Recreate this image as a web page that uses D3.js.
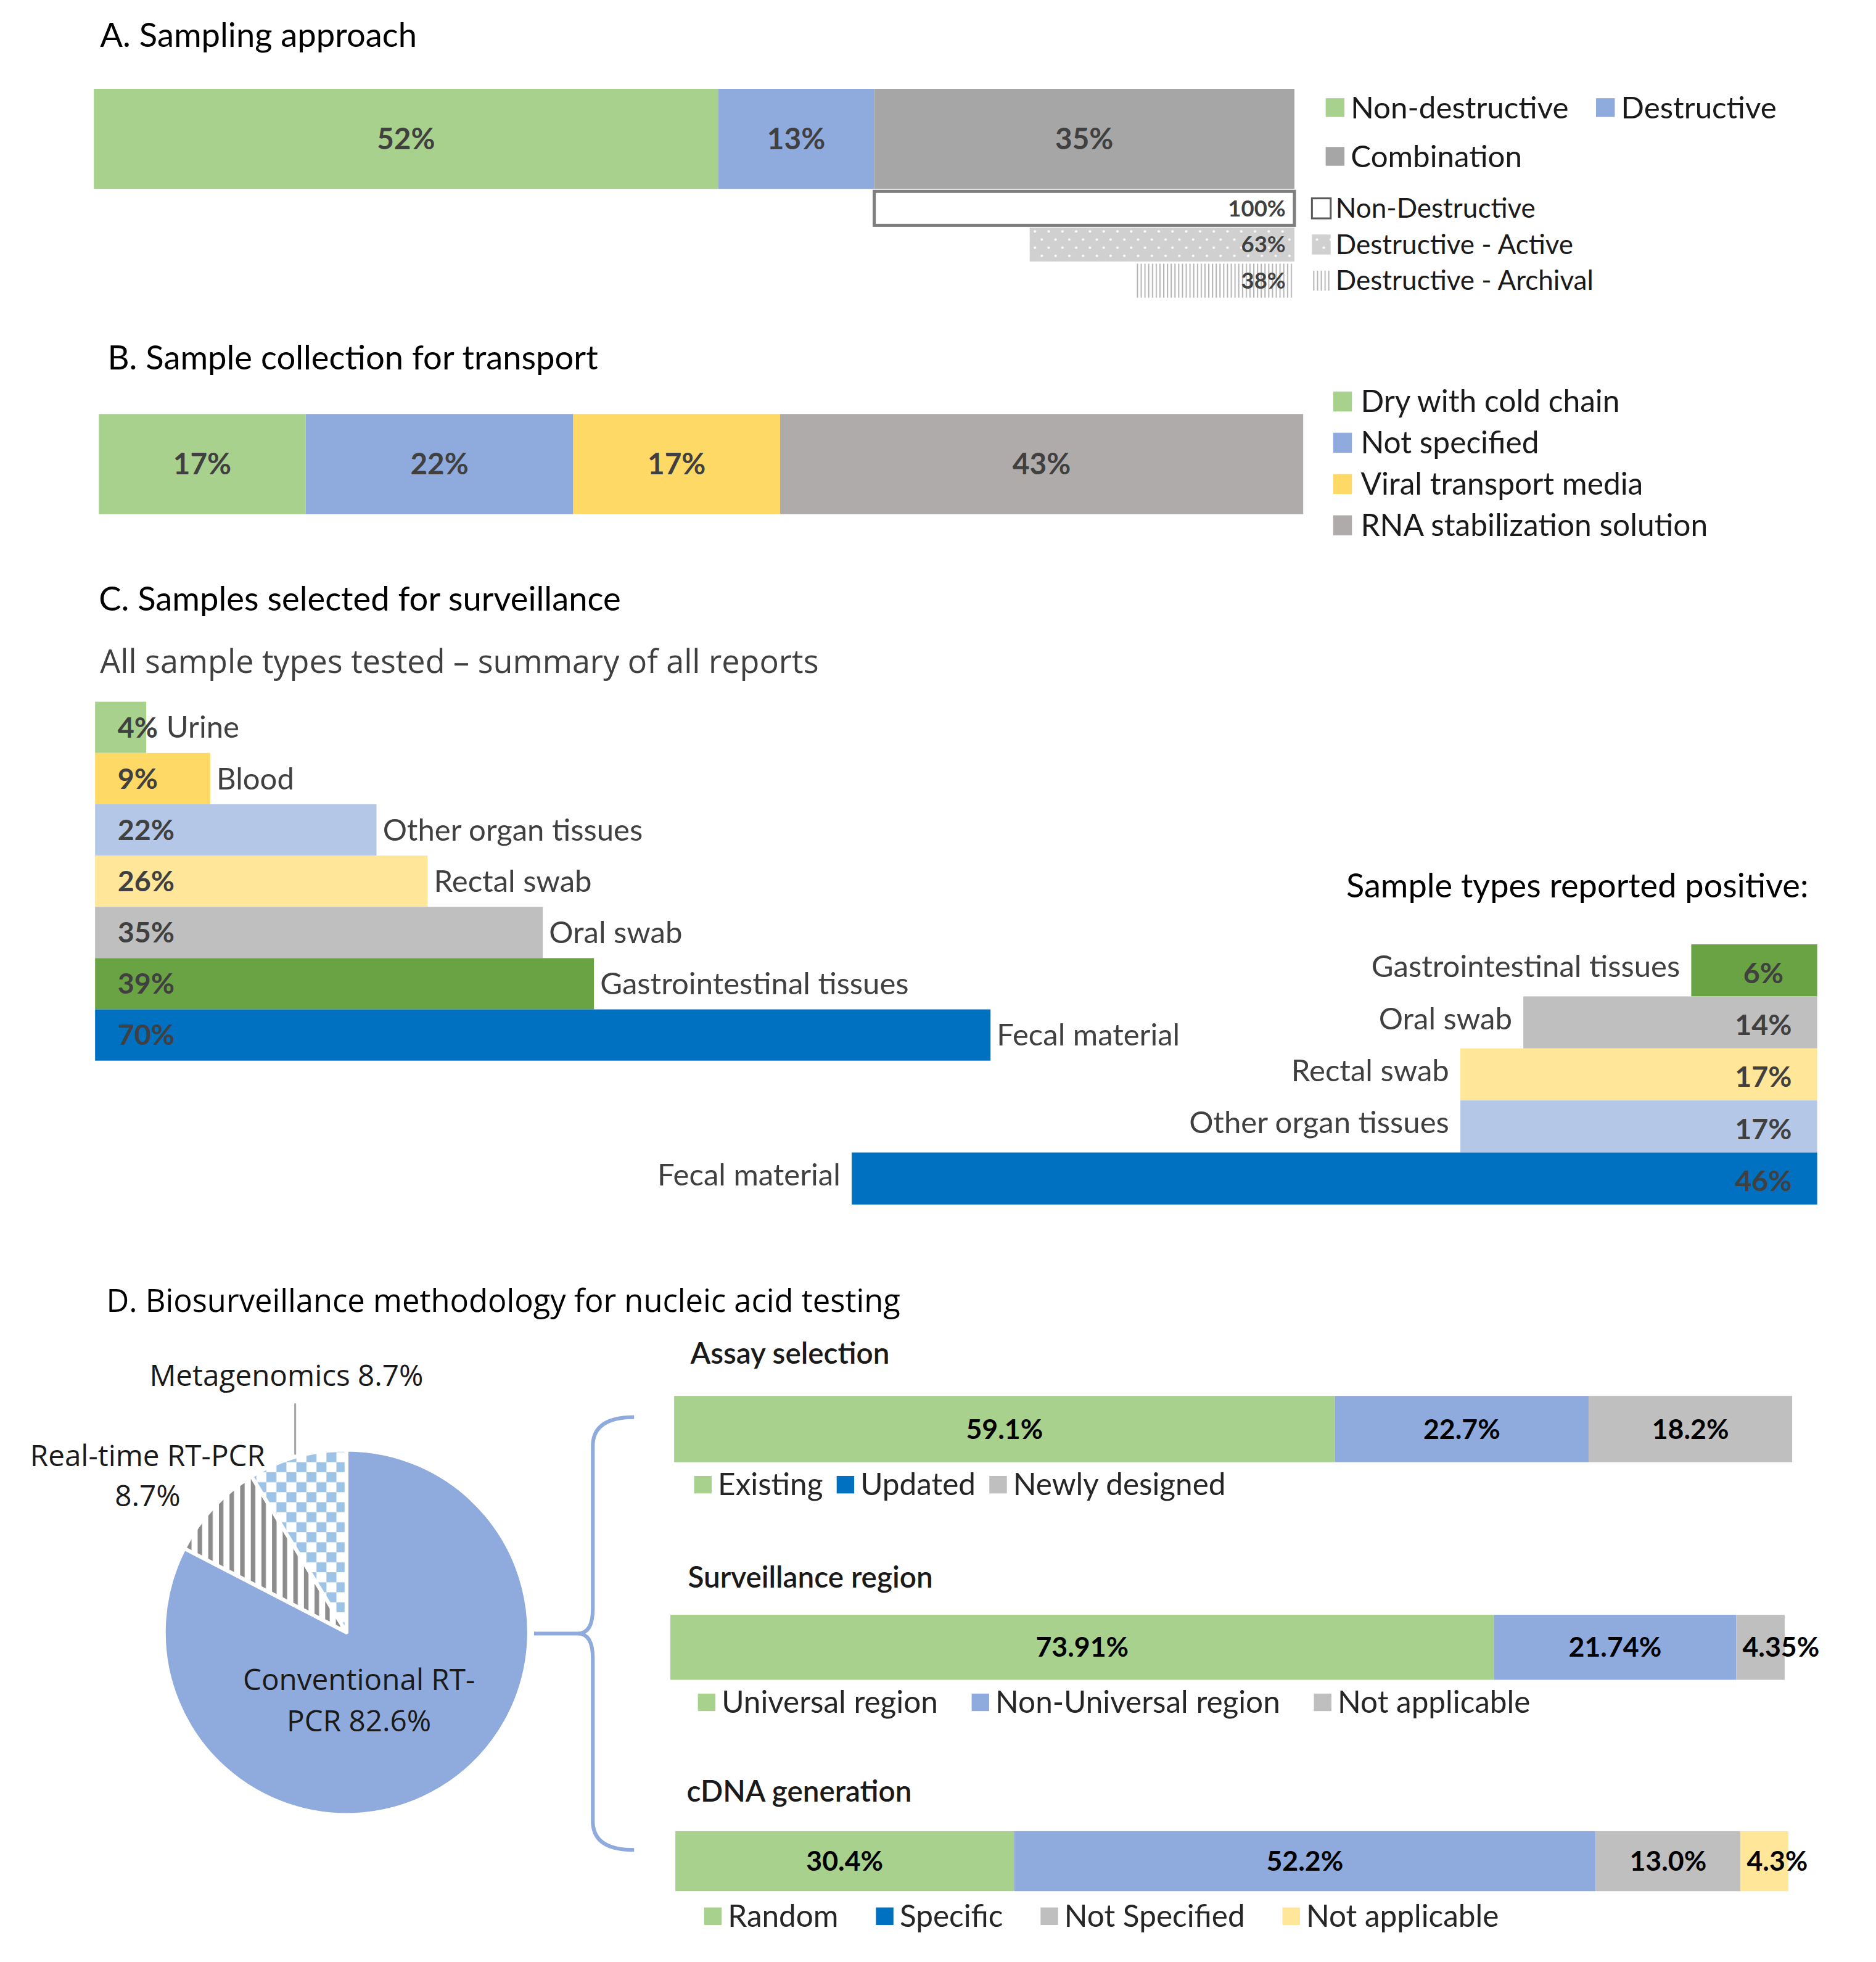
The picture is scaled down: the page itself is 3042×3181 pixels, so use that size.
<!DOCTYPE html>
<html>
<head>
<meta charset="utf-8">
<script src="https://cdn.jsdelivr.net/npm/d3@7"></script>
<style>
  body { margin: 0; background: #fff; }
  svg text { font-family: Lato, "Open Sans", sans-serif; }
  svg text.segoe { font-family: "Open Sans", "Noto Sans", sans-serif; }
</style>
</head>
<body>
<div id="chart"></div>
<script>
////////////////// Data ////////////////////
var approachCats = ["Non-destructive", "Destructive", "Combination"];
var approachVals = [52, 13, 35];
var comboCats = ["Non-Destructive", "Destructive - Active", "Destructive - Archival"];
var comboVals = [100, 63, 38];

var transportCats = ["Dry with cold chain", "Not specified", "Viral transport media", "RNA stabilization solution"];
var transportVals = [17, 22, 17, 43];

var testedCats = ["Urine", "Blood", "Other organ tissues", "Rectal swab", "Oral swab", "Gastrointestinal tissues", "Fecal material"];
var testedVals = [4, 9, 22, 26, 35, 39, 70];
var positiveCats = ["Gastrointestinal tissues", "Oral swab", "Rectal swab", "Other organ tissues", "Fecal material"];
var positiveVals = [6, 14, 17, 17, 46];

var methodCats = ["Conventional RT-PCR", "Real-time RT-PCR", "Metagenomics"];
var methodVals = [82.6, 8.7, 8.7];

var assayCats = ["Existing", "Updated", "Newly designed"];
var assayVals = [59.1, 22.7, 18.2];
var regionCats = ["Universal region", "Non-Universal region", "Not applicable"];
var regionVals = [73.91, 21.74, 4.35];
var cdnaCats = ["Random", "Specific", "Not Specified", "Not applicable"];
var cdnaVals = [30.4, 52.2, 13.0, 4.3];

////////////////// Colours ////////////////////
var green = "#A9D18E", blue = "#8FAADC", darkBlue = "#0070C0", grey = "#BFBFBF";
var sampleColor = {
  "Urine": "#A9D18E", "Blood": "#FFD966", "Other organ tissues": "#B4C7E7",
  "Rectal swab": "#FFE699", "Oral swab": "#BFBFBF",
  "Gastrointestinal tissues": "#6AA343", "Fecal material": "#0070C0"
};

////////////////// SVG Container ////////////////////
var W = 1500, H = 1568.6;
var svg = d3.select("#chart").append("svg")
  .attr("width", 3042)
  .attr("height", 3181)
  .attr("viewBox", "0 0 " + W + " " + H);

////////////////// Patterns ////////////////////
var defs = svg.append("defs");

var pDot = defs.append("pattern").attr("id", "dots")
  .attr("patternUnits", "userSpaceOnUse").attr("width", 11).attr("height", 13);
pDot.append("rect").attr("width", 11).attr("height", 13).attr("fill", "#D0D0D0");
pDot.append("circle").attr("cx", 2.5).attr("cy", 3).attr("r", 1).attr("fill", "#fff");
pDot.append("circle").attr("cx", 8).attr("cy", 9.5).attr("r", 1).attr("fill", "#fff");

var pLines = defs.append("pattern").attr("id", "vlines")
  .attr("patternUnits", "userSpaceOnUse").attr("width", 3).attr("height", 10);
pLines.append("rect").attr("width", 3).attr("height", 10).attr("fill", "#fff");
pLines.append("rect").attr("width", 1).attr("height", 10).attr("fill", "#B5B5B5");

var pStripe = defs.append("pattern").attr("id", "stripes")
  .attr("patternUnits", "userSpaceOnUse").attr("width", 8.5).attr("height", 10);
pStripe.append("rect").attr("width", 8.5).attr("height", 10).attr("fill", "#fff");
pStripe.append("rect").attr("width", 3.6).attr("height", 10).attr("fill", "#8C8C8C");

var pCheck = defs.append("pattern").attr("id", "checks")
  .attr("patternUnits", "userSpaceOnUse").attr("width", 16).attr("height", 16);
pCheck.append("rect").attr("width", 16).attr("height", 16).attr("fill", "#fff");
pCheck.append("rect").attr("width", 8).attr("height", 8).attr("fill", "#9DC3E6");
pCheck.append("rect").attr("x", 8).attr("y", 8).attr("width", 8).attr("height", 8).attr("fill", "#9DC3E6");

////////////////// Helpers ////////////////////
function addText(g, x, y, str, size, opts) {
  opts = opts || {};
  return g.append("text")
    .attr("x", x).attr("y", y).attr("dy", "0.35em")
    .attr("font-size", size)
    .attr("text-anchor", opts.anchor || "start")
    .attr("font-weight", opts.weight || "normal")
    .attr("fill", opts.fill || "#000")
    .attr("class", opts.cls || null)
    .text(str);
}

// one horizontal 100% stacked bar
function stackedBar(g, cats, vals, colors, x0, w, y, h, fmt, labelSize, labelFill) {
  var x = d3.scaleLinear().domain([0, d3.sum(vals)]).range([x0, x0 + w]);
  var ends = Array.from(d3.cumsum(vals));
  var rows = cats.map(function (c, i) { return { cat: c, v: vals[i], s: ends[i] - vals[i] }; });

  g.selectAll(null).data(rows).enter().append("rect")
    .attr("x", d => x(d.s))
    .attr("y", y)
    .attr("width", d => x(d.s + d.v) - x(d.s))
    .attr("height", h)
    .attr("fill", (d, i) => colors[i]);

  g.selectAll(null).data(rows).enter().append("text")
    .attr("y", y + h / 2)
    .attr("dy", "0.35em")
    .attr("font-size", labelSize)
    .attr("font-weight", "bold")
    .attr("fill", labelFill || "#000")
    .attr("text-anchor", "middle")
    .attr("x", d => x(d.s + d.v / 2))
    .text(d => fmt(d.v))
    .each(function (d) {
      // labels wider than their slice start at the slice's left edge
      var tw = this.getComputedTextLength();
      if (tw > x(d.s + d.v) - x(d.s) - 4) {
        d3.select(this).attr("text-anchor", "start").attr("x", x(d.s) + 5);
      }
    });
  return x;
}

// legend items laid out in a row
function legendRow(g, cats, colors, x, y, size, sq, gap, fill) {
  var cx = x;
  cats.forEach(function (c, i) {
    g.append("rect").attr("x", cx).attr("y", y - sq / 2)
      .attr("width", sq).attr("height", sq).attr("fill", colors[i]);
    var t = addText(g, cx + sq + 5, y, c, size, { fill: fill });
    cx += sq + 5 + t.node().getComputedTextLength() + gap;
  });
}

var titleSize = 26.8;

////////////////// A. Sampling approach ////////////////////
var gA = svg.append("g");
addText(gA, 80, 28, "A. Sampling approach", titleSize);

var xA = stackedBar(gA, approachCats, approachVals, [green, blue, "#A6A6A6"], 75, 960, 71, 80,
  d => d + "%", 23.5, "#404040");

legendRow(gA, approachCats.slice(0, 2), [green, blue], 1060, 86, 24.3, 15, 22, "#1a1a1a");
legendRow(gA, approachCats.slice(2), ["#A6A6A6"], 1060, 125, 24.3, 15, 22, "#1a1a1a");

// breakdown of the "Combination" share, right aligned under it
var comboRight = xA(100);
var xCombo = d3.scaleLinear().domain([0, 100]).range([0, xA(100) - xA(65)]);
var yCombo = d3.scaleBand().domain(comboCats).range([153, 238]).paddingInner(0.06);
var comboFill = ["#fff", "url(#dots)", "url(#vlines)"];

gA.selectAll(".combo").data(comboVals).enter().append("rect")
  .attr("class", "combo")
  .attr("x", d => comboRight - xCombo(d))
  .attr("y", (d, i) => yCombo(comboCats[i]))
  .attr("width", d => xCombo(d))
  .attr("height", yCombo.bandwidth())
  .attr("fill", (d, i) => comboFill[i])
  .attr("stroke", (d, i) => i === 0 ? "#7F7F7F" : "none")
  .attr("stroke-width", 2.5);

gA.selectAll(".comboLabel").data(comboVals).enter().append("text")
  .attr("class", "comboLabel")
  .attr("x", comboRight - 7)
  .attr("y", (d, i) => yCombo(comboCats[i]) + yCombo.bandwidth() / 2)
  .attr("dy", "0.35em")
  .attr("text-anchor", "end")
  .attr("font-size", 18)
  .attr("font-weight", "bold")
  .attr("fill", "#404040")
  .text(d => d + "%");

comboCats.forEach(function (c, i) {
  var cy = yCombo(c) + yCombo.bandwidth() / 2;
  gA.append("rect").attr("x", 1049).attr("y", cy - 8).attr("width", 15).attr("height", 16)
    .attr("fill", comboFill[i]).attr("stroke", i === 0 ? "#595959" : "none").attr("stroke-width", 1.5);
  addText(gA, 1068, cy, c, 21.7, { fill: "#1a1a1a" });
});

////////////////// B. Sample collection for transport ////////////////////
var gB = svg.append("g");
addText(gB, 86, 286, "B. Sample collection for transport", titleSize);
var transportColors = [green, blue, "#FFD966", "#AFABAB"];
stackedBar(gB, transportCats, transportVals, transportColors, 79, 963, 331, 80, d => d + "%", 23.5, "#404040");

var yBLeg = d3.scalePoint().domain(transportCats).range([321, 420]);
transportCats.forEach(function (c, i) {
  gB.append("rect").attr("x", 1066).attr("y", yBLeg(c) - 8).attr("width", 15).attr("height", 16)
    .attr("fill", transportColors[i]);
  addText(gB, 1088, yBLeg(c), c, 24.5, { fill: "#1a1a1a" });
});

////////////////// C. Samples selected for surveillance ////////////////////
var gC = svg.append("g");
addText(gC, 79, 479, "C. Samples selected for surveillance", titleSize);
addText(gC, 80, 529, "All sample types tested \u2013 summary of all reports", 25.7, { fill: "#404040", cls: "segoe" });

var xT = d3.scaleLinear().domain([0, 70]).range([76, 792]);
var yT = d3.scaleBand().domain(testedCats).range([561, 848]);
var tested = testedCats.map((c, i) => ({ cat: c, v: testedVals[i] }));

gC.selectAll(".tested").data(tested).enter().append("rect")
  .attr("class", "tested")
  .attr("x", xT(0))
  .attr("y", d => yT(d.cat))
  .attr("width", d => xT(d.v) - xT(0))
  .attr("height", yT.bandwidth())
  .attr("fill", d => sampleColor[d.cat]);

gC.selectAll(".testedVal").data(tested).enter().append("text")
  .attr("class", "testedVal")
  .attr("x", xT(0) + 18)
  .attr("y", d => yT(d.cat) + yT.bandwidth() / 2)
  .attr("dy", "0.35em")
  .attr("font-size", 23)
  .attr("font-weight", "bold")
  .attr("fill", "#404040")
  .text(d => d.v + "%");

gC.selectAll(".testedCat").data(tested).enter().append("text")
  .attr("class", "testedCat")
  .attr("x", d => Math.max(xT(d.v) + 5, xT(0) + 57))
  .attr("y", d => yT(d.cat) + yT.bandwidth() / 2)
  .attr("dy", "0.35em")
  .attr("font-size", 24.2)
  .attr("fill", "#404040")
  .text(d => d.cat);

// reported positive, right aligned
addText(gC, 1446, 708, "Sample types reported positive:", 26.7, { anchor: "end" });
var posRight = 1453;
var xP = d3.scaleLinear().domain([0, 46]).range([0, 772]);
var yP = d3.scaleBand().domain(positiveCats).range([755, 963]);
var positive = positiveCats.map((c, i) => ({ cat: c, v: positiveVals[i] }));

gC.selectAll(".pos").data(positive).enter().append("rect")
  .attr("class", "pos")
  .attr("x", d => posRight - xP(d.v))
  .attr("y", d => yP(d.cat))
  .attr("width", d => xP(d.v))
  .attr("height", yP.bandwidth())
  .attr("fill", d => sampleColor[d.cat]);

gC.selectAll(".posVal").data(positive).enter().append("text")
  .attr("class", "posVal")
  .attr("x", posRight - 43)
  .attr("y", d => yP(d.cat) + yP.bandwidth() / 2 + 2)
  .attr("dy", "0.35em")
  .attr("text-anchor", "middle")
  .attr("font-size", 23)
  .attr("font-weight", "bold")
  .attr("fill", "#404040")
  .text(d => d.v + "%");

gC.selectAll(".posCat").data(positive).enter().append("text")
  .attr("class", "posCat")
  .attr("x", d => posRight - xP(d.v) - 9)
  .attr("y", d => yP(d.cat) + yP.bandwidth() / 2 - 3)
  .attr("dy", "0.35em")
  .attr("text-anchor", "end")
  .attr("font-size", 24.2)
  .attr("fill", "#404040")
  .text(d => d.cat);

////////////////// D. Biosurveillance methodology ////////////////////
var gD = svg.append("g");
addText(gD, 85, 1040, "D. Biosurveillance methodology for nucleic acid testing", 25, { cls: "segoe" });

// pie
var pieCx = 277, pieCy = 1305, pieR = 146;
var pie = d3.pie().sort(null).value(d => d.v);
var arc = d3.arc().innerRadius(0).outerRadius(pieR);
var methods = methodCats.map((c, i) => ({ cat: c, v: methodVals[i] }));
var methodFill = [blue, "url(#stripes)", "url(#checks)"];

var gPie = gD.append("g").attr("transform", "translate(" + pieCx + "," + pieCy + ")");
gPie.selectAll("path").data(pie(methods)).enter().append("path")
  .attr("d", arc)
  .attr("fill", (d, i) => methodFill[i])
  .attr("stroke", "#fff")
  .attr("stroke-width", 3)
  .attr("stroke-linejoin", "round");

var pct = d => d.toFixed(1) + "%";
var pieFont = 23.5;
addText(gPie, 10, 38, "Conventional RT-", pieFont, { anchor: "middle", cls: "segoe", fill: "#1a1a1a" });
addText(gPie, 10, 71, "PCR " + pct(methodVals[0]), pieFont, { anchor: "middle", cls: "segoe", fill: "#1a1a1a" });
addText(gPie, -159, -141, methodCats[1], pieFont, { anchor: "middle", cls: "segoe", fill: "#1a1a1a" });
addText(gPie, -159, -109, pct(methodVals[1]), pieFont, { anchor: "middle", cls: "segoe", fill: "#1a1a1a" });
addText(gPie, -48, -205, methodCats[2] + " " + pct(methodVals[2]), pieFont, { anchor: "middle", cls: "segoe", fill: "#1a1a1a" });
gPie.append("line").attr("x1", -41).attr("x2", -41).attr("y1", -183).attr("y2", -142)
  .attr("stroke", "#A6A6A6").attr("stroke-width", 1.5);

// brace from the pie to the three bars
gD.append("path")
  .attr("d", "M427,1306 L462,1306 M507,1133 Q474,1133 474,1156 L474,1286 Q474,1306 462,1306 " +
             "Q474,1306 474,1326 L474,1456 Q474,1479 507,1479")
  .attr("fill", "none")
  .attr("stroke", blue)
  .attr("stroke-width", 3);

var subSize = 23.5, legSize = 24.4, barLab = 22;

// Assay selection
addText(gD, 552, 1082, "Assay selection", subSize, { weight: 600, fill: "#1a1a1a" });
stackedBar(gD, assayCats, assayVals, [green, blue, grey], 539, 894, 1116, 53, d => d.toFixed(1) + "%", barLab);
legendRow(gD, assayCats, [green, darkBlue, grey], 555, 1187, legSize, 14, 11, "#262626");

// Surveillance region
addText(gD, 550, 1261, "Surveillance region", subSize, { weight: 600, fill: "#1a1a1a" });
stackedBar(gD, regionCats, regionVals, [green, blue, grey], 536, 891, 1291, 52, d => d.toFixed(2) + "%", barLab);
legendRow(gD, regionCats, [green, blue, grey], 558, 1361, legSize, 14, 27, "#262626");

// cDNA generation
addText(gD, 549, 1432, "cDNA generation", subSize, { weight: 600, fill: "#1a1a1a" });
stackedBar(gD, cdnaCats, cdnaVals, [green, blue, grey, "#FFE699"], 540, 890, 1464, 48, d => d.toFixed(1) + "%", barLab);
legendRow(gD, cdnaCats, [green, darkBlue, grey, "#FFE699"], 563, 1532, legSize, 14, 30, "#262626");
</script>
</body>
</html>
